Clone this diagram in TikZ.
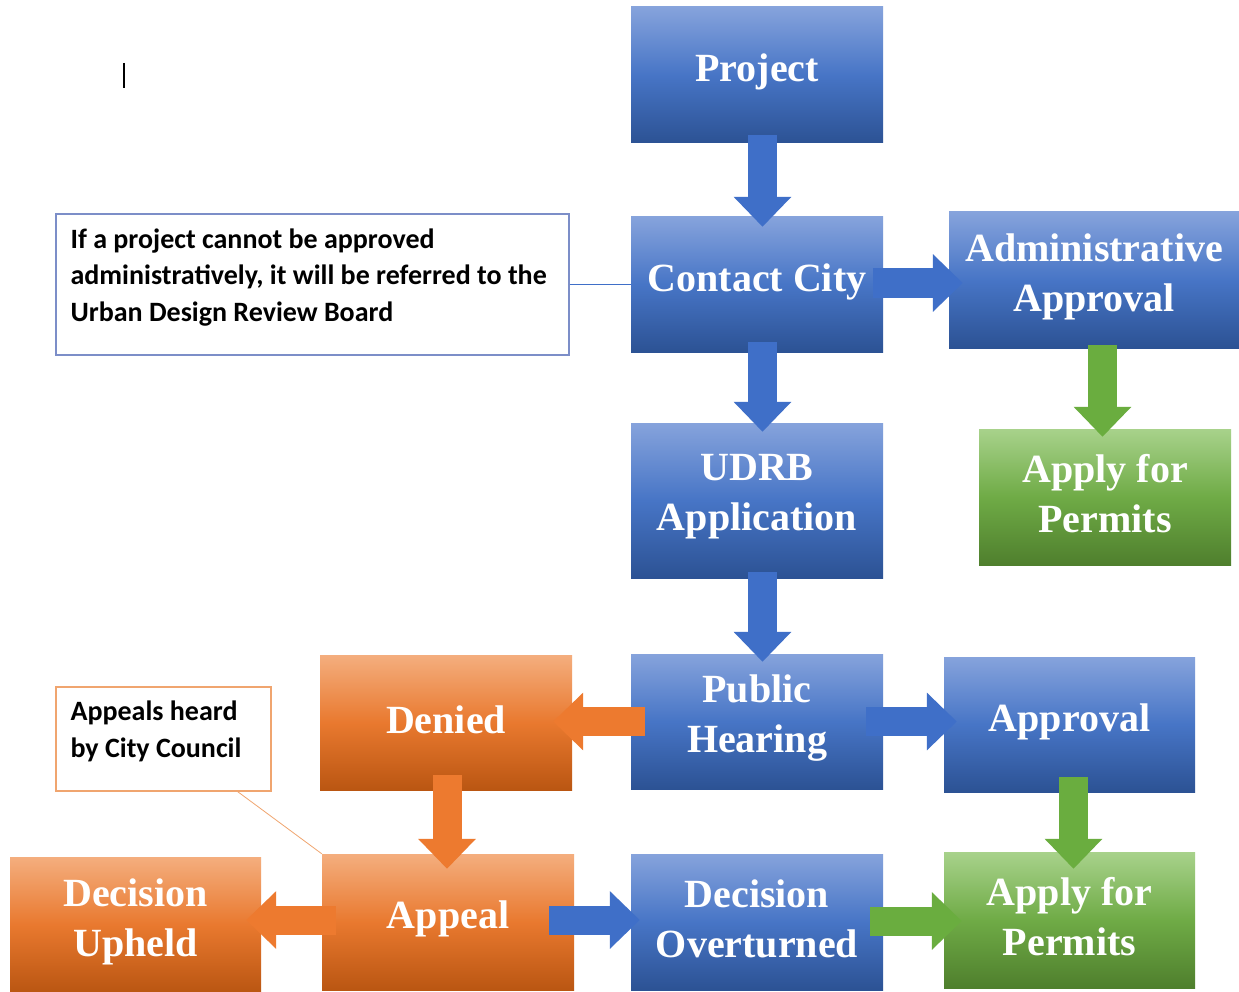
\documentclass[tikz,border=0pt]{standalone}
\usepackage{fontspec}
\newfontfamily\boxfont{Liberation Serif}
\newfontfamily\notefont{Carlito}
\usetikzlibrary{arrows.meta,calc}
\definecolor{bT}{HTML}{86A3DC}
\definecolor{bM}{HTML}{4775C6}
\definecolor{bB}{HTML}{2C5294}
\definecolor{oT}{HTML}{F4AE7E}
\definecolor{oM}{HTML}{E9792F}
\definecolor{oB}{HTML}{BA5612}
\definecolor{gT}{HTML}{A8D28B}
\definecolor{gM}{HTML}{6FAB46}
\definecolor{gB}{HTML}{4F7F2D}
\definecolor{arB}{HTML}{3F6FC8}
\definecolor{arO}{HTML}{ED7A2F}
\definecolor{arG}{HTML}{6AAD3F}
\definecolor{nB}{HTML}{7C8EC8}
\definecolor{nO}{HTML}{F0A56F}
\begin{document}
\begin{tikzpicture}[x=1pt,y=-1pt,
  basebox/.style={rectangle, inner sep=0pt, minimum width=252pt, minimum height=136pt},
  bluebox/.style={basebox, top color=bT, bottom color=bB, middle color=bM},
  orangebox/.style={basebox, top color=oT, bottom color=oB, middle color=oM},
  greenbox/.style={basebox, top color=gT, bottom color=gB, middle color=gM},
  boxtxt/.style={text=white, font=\boxfont\bfseries\fontsize{40}{50}\selectfont, align=center, inner sep=0pt},
  notebox/.style={rectangle, inner sep=0pt, fill=white, line width=1.2pt},
  notetxt/.style={anchor=north west, inner sep=0pt, align=left, font=\notefont\bfseries\fontsize{28}{36.5}\selectfont},
  flow/.style={line width=29pt, -{Triangle[width=56pt,length=30pt]}},
  bflow/.style={flow, draw=arB},
  oflow/.style={flow, draw=arO},
  gflow/.style={flow, draw=arG}
]
\useasboundingbox (0,0) rectangle (1239,992);
\fill[white] (0,0) rectangle (1239,992);

% cursor mark
\draw[line width=1.5pt] (124,63) -- (124,88);

% boxes
\node[bluebox] (proj) at (757,75) {};
\node[bluebox, minimum height=135pt] (contact) at (757,284.5) {};
\node[bluebox, minimum width=290pt] (admin) at (1094,280) {};
\node[greenbox] (apply1) at (1105,497) {};
\node[bluebox, minimum height=155pt] (udrb) at (757,500.5) {};
\node[bluebox, minimum height=135pt] (ph) at (757,721.5) {};
\node[bluebox, minimum width=251pt, minimum height=135pt] (approval) at (1069.5,724.5) {};
\node[orangebox, minimum height=135pt] (denied) at (446,722.5) {};
\node[orangebox] (appeal) at (448,922) {};
\node[orangebox, minimum width=251pt, minimum height=135pt] (upheld) at (135.5,924.5) {};
\node[bluebox] (overturned) at (757,922) {};
\node[greenbox, minimum width=251pt] (apply2) at (1069.5,920) {};

% notes
\node[notebox, draw=nB, minimum width=513pt, minimum height=141pt] (note1) at (312.5,284.5) {};
\node[notetxt] (note1t) at ([xshift=15pt,yshift=-15pt]note1.north west)
  {If a project cannot be approved\\administratively, it will be referred to the\\Urban Design Review Board};
\node[notebox, draw=nO, minimum width=215pt, minimum height=104pt] (note2) at (163.5,739) {};
\node[notetxt] (note2t) at ([xshift=15pt,yshift=-14.5pt]note2.north west)
  {Appeals heard\\by City Council};

\draw[draw=arB, line width=1pt] (note1.east) -- (contact.west);
\draw[draw=nO, line width=0.8pt] ([xshift=-34pt]note2.south east) -- (appeal.north west);

% arrows
\draw[bflow, shorten <=-8pt, shorten >=-10pt] ([xshift=5.5pt]proj.south) -- ([xshift=5.5pt]contact.north);
\draw[bflow, shorten <=-10pt, shorten >=-9pt] ([xshift=5.5pt]contact.south) -- ([xshift=5.5pt]udrb.north);
\draw[bflow, shorten <=-6pt, shorten >=-8pt] ([xshift=5.5pt]udrb.south) -- ([xshift=5.5pt]ph.north);
\draw[bflow, shorten <=-10pt, shorten >=-14pt] ([yshift=1.5pt]contact.east) -- ([yshift=1.5pt]contact.east -| admin.west);
\draw[gflow, shorten <=-3pt, shorten >=-8pt] ([xshift=8.5pt]admin.south) -- ([xshift=8.5pt]admin.south |- apply1.north);
\draw[bflow, shorten <=-17pt, shorten >=-13pt] (ph.east) -- (ph.east -| approval.west);
\draw[oflow, shorten <=-14pt, shorten >=-19pt] (ph.west) -- (ph.west -| denied.east);
\draw[oflow, shorten <=-15pt, shorten >=-15pt] ([xshift=1pt]denied.south) -- ([xshift=1pt]denied.south |- appeal.north);
\draw[oflow, shorten <=-14pt, shorten >=-15pt] ([yshift=2pt]appeal.west) -- ([yshift=2pt]appeal.west -| upheld.east);
\draw[bflow, shorten <=-25pt, shorten >=-9pt] ([yshift=2pt]appeal.east) -- ([yshift=2pt]appeal.east -| overturned.west);
\draw[gflow, shorten <=-15pt, shorten >=-17pt] ([xshift=4pt]approval.south) -- ([xshift=4pt]approval.south |- apply2.north);
\draw[gflow, shorten <=-13pt, shorten >=-18pt] ([yshift=1pt]overturned.east) -- ([yshift=1pt]overturned.east -| apply2.west);

% box texts
\node[boxtxt] (projt) at ([yshift=3pt]proj.center) {Project};
\node[boxtxt] (contactt) at ([yshift=3pt]contact.center) {Contact City};
\node[boxtxt] (admint) at ([yshift=3pt]admin.center) {Administrative\\Approval};
\node[boxtxt] (apply1t) at ([yshift=3pt]apply1.center) {Apply for\\Permits};
\node[boxtxt] (udrbt) at ([yshift=4pt]udrb.center) {UDRB\\Application};
\node[boxtxt] (pht) at ([yshift=3pt]ph.center) {Public\\Hearing};
\node[boxtxt] (approvalt) at ([yshift=3pt]approval.center) {Approval};
\node[boxtxt] (deniedt) at ([yshift=3pt]denied.center) {Denied};
\node[boxtxt] (appealt) at ([yshift=3pt]appeal.center) {Appeal};
\node[boxtxt] (upheldt) at ([yshift=3pt]upheld.center) {Decision\\Upheld};
\node[boxtxt] (overturnedt) at ([yshift=3pt]overturned.center) {Decision\\Overturned};
\node[boxtxt] (apply2t) at ([yshift=3pt]apply2.center) {Apply for\\Permits};
\end{tikzpicture}
\end{document}
